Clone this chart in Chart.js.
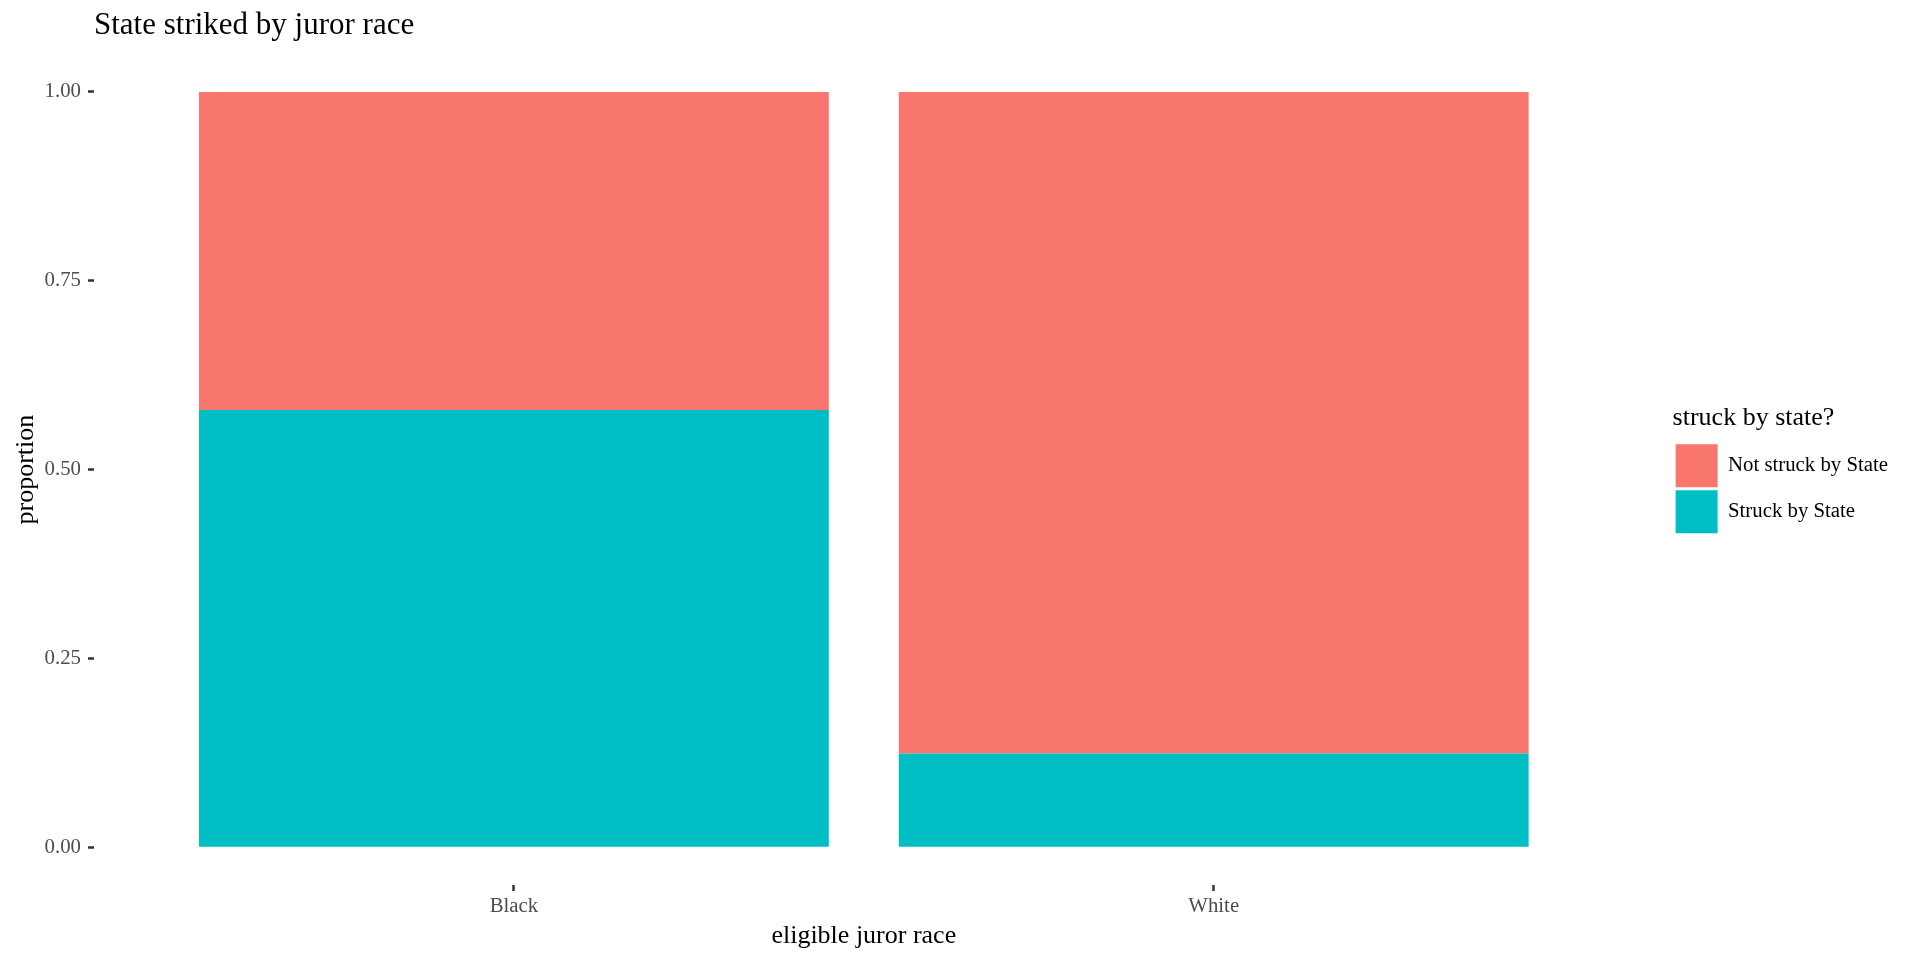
<!DOCTYPE html>
<html>
<head>
<meta charset="utf-8">
<script src="https://cdn.jsdelivr.net/npm/chart.js@4"></script>
<style>
  body { margin: 0; background: #fff; }
</style>
</head>
<body>
<canvas id="chart" width="1920" height="960"></canvas>
<script>
// eligible juror race categories, proportions stacked to 1
var categories = ["Black", "White"];
var struck = [0.579, 0.124];
var notStruck = [0.421, 0.876];
var yTicks = [0, 0.25, 0.5, 0.75, 1];

Chart.defaults.font.family = "'Liberation Serif', 'Times New Roman', serif";
Chart.defaults.color = "#000";

var ctx = document.getElementById("chart");
var chart = new Chart(ctx, {
  type: "bar",
  data: {
    datasets: [
      {
        label: "Struck by State",
        backgroundColor: "#00BFC4",
        data: categories.map(function (c, i) { return { x: i + 1, y: struck[i] }; })
      },
      {
        label: "Not struck by State",
        backgroundColor: "#F8766D",
        data: categories.map(function (c, i) { return { x: i + 1, y: notStruck[i] }; })
      }
    ]
  },
  options: {
    responsive: false,
    animation: false,
    barPercentage: 0.9,
    categoryPercentage: 1,
    borderWidth: 0,
    layout: { padding: { left: 0, right: 22, top: 0, bottom: 0 } },
    plugins: {
      tooltip: { enabled: false },
      title: {
        display: true,
        text: "State striked by juror race",
        align: "start",
        fullSize: false,
        color: "#000",
        font: { size: 31, weight: "normal" },
        padding: { top: 7, bottom: 10 }
      },
      legend: {
        position: "right",
        align: "start",
        reverse: true,
        title: {
          display: true,
          position: "start",
          text: "struck by state?",
          color: "#000",
          font: { size: 26 },
          padding: { top: 405, bottom: 5 }
        },
        labels: {
          boxWidth: 42,
          boxHeight: 43,
          padding: 3,
          color: "#000",
          font: { size: 20.8 }
        }
      }
    },
    scales: {
      x: {
        type: "linear",
        stacked: true,
        min: 0.4,
        max: 2.6,
        offset: false,
        afterBuildTicks: function (a) {
          a.ticks = categories.map(function (c, i) { return { value: i + 1 }; });
        },
        afterFit: function (a) { a.height = 75; },
        ticks: {
          color: "#4D4D4D",
          font: { size: 20.8 },
          padding: 3,
          maxRotation: 0,
          callback: function (v) { return categories[v - 1]; }
        },
        grid: {
          display: true,
          offset: false,
          drawOnChartArea: false,
          tickLength: 6,
          tickColor: "#333333",
          tickWidth: 2.5
        },
        border: { display: false },
        title: {
          display: true,
          text: "eligible juror race",
          color: "#000",
          font: { size: 26 },
          padding: { top: 0, bottom: 8 }
        }
      },
      y: {
        stacked: true,
        min: -0.05,
        max: 1.05,
        afterBuildTicks: function (a) {
          a.ticks = yTicks.map(function (v) { return { value: v }; });
        },
        afterFit: function (a) { a.width = 94; },
        ticks: {
          color: "#4D4D4D",
          font: { size: 20.8 },
          padding: 7,
          callback: function (v) { return v.toFixed(2); }
        },
        grid: {
          display: true,
          drawOnChartArea: false,
          tickLength: 6,
          tickColor: "#333333",
          tickWidth: 2.5
        },
        border: { display: false },
        title: {
          display: true,
          text: "proportion",
          color: "#000",
          font: { size: 26 },
          padding: { top: 11, bottom: 0 }
        }
      },
      gap: {
        type: "linear",
        position: "right",
        display: true,
        grid: { display: false },
        ticks: { display: false },
        border: { display: false },
        afterFit: function (a) { a.width = 39; }
      }
    }
  }
});
</script>
</body>
</html>
